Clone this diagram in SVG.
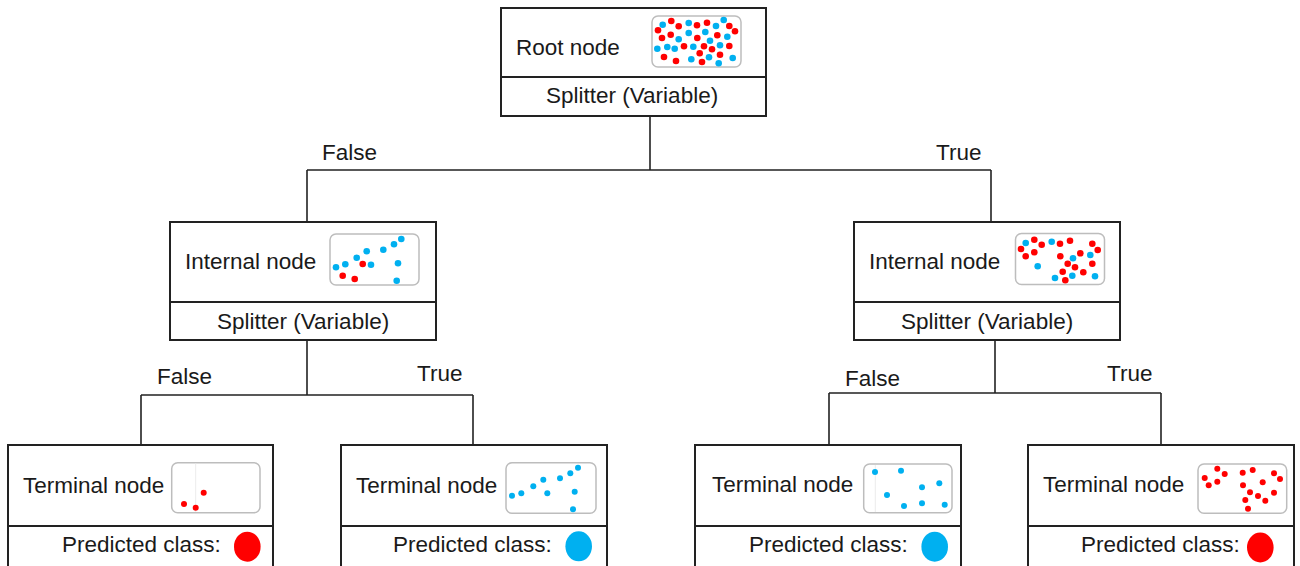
<svg xmlns="http://www.w3.org/2000/svg" width="1300" height="566" viewBox="0 0 1300 566">
  <defs>
    <style>
      .box { fill: #ffffff; stroke: #222222; stroke-width: 2; }
      .div { stroke: #222222; stroke-width: 2; }
      .plot { fill: #ffffff; stroke: #bdbdbd; stroke-width: 1.5; }
      .guide { stroke: #ececec; stroke-width: 1; }
      .wire { fill: none; stroke: #222222; stroke-width: 1.6; }
      text { font-family: "Liberation Sans", Arial, sans-serif; font-size: 22.5px; fill: #1a1a1a; }
      .r { fill: #ff0000; }
      .b { fill: #00b0f0; }
      .big circle { r: 3.3px; }
    </style>
  </defs>
  <rect width="1300" height="566" fill="#ffffff"/>

  <!-- tree branches -->
  <g id="connectors">
    <path class="wire" d="M650,116 V170 M307,170 H991 M307,170 V222 M991,170 V222"/>
    <path class="wire" d="M307,340 V395 M141,395 H473 M141,395 V445 M473,395 V445"/>
    <path class="wire" d="M995,340 V393 M829,393 H1161 M829,393 V445 M1161,393 V445"/>
    <text x="322" y="160">False</text>
    <text x="936" y="160">True</text>
    <text x="157" y="384">False</text>
    <text x="417" y="381">True</text>
    <text x="845" y="386">False</text>
    <text x="1107" y="381">True</text>
  </g>

  <!-- root -->
  <g id="root">
    <rect class="box" x="501" y="8" width="265" height="108"/>
    <line class="div" x1="501" y1="77" x2="766" y2="77"/>
    <text x="516" y="55">Root node</text>
    <text x="546" y="103">Splitter (Variable)</text>
    <rect class="plot" x="652" y="16" width="89" height="51" rx="6"/>
    <g class="big">
      <circle class="b" cx="662.7" cy="24.7" r="3"/><circle class="r" cx="671.3" cy="21" r="3"/>
      <circle class="r" cx="678.7" cy="26.3" r="3"/><circle class="b" cx="688.7" cy="23" r="3"/>
      <circle class="r" cx="697" cy="25.3" r="3"/><circle class="r" cx="707" cy="22.7" r="3"/>
      <circle class="b" cx="716" cy="26" r="3"/><circle class="b" cx="723.7" cy="20" r="3"/>
      <circle class="r" cx="729.3" cy="26" r="3"/><circle class="r" cx="735" cy="31.3" r="3"/>
      <circle class="r" cx="658" cy="30.3" r="3"/><circle class="r" cx="662" cy="38" r="3"/>
      <circle class="r" cx="670.7" cy="34.7" r="3"/><circle class="b" cx="678.7" cy="39.3" r="3"/>
      <circle class="b" cx="688.7" cy="33" r="3"/><circle class="r" cx="697.3" cy="38" r="3"/>
      <circle class="b" cx="705.3" cy="32" r="3"/><circle class="r" cx="717.3" cy="35.3" r="3"/>
      <circle class="b" cx="727.3" cy="36.7" r="3"/><circle class="b" cx="710" cy="40.7" r="3"/>
      <circle class="r" cx="704" cy="46.3" r="3"/><circle class="b" cx="720" cy="45.3" r="3"/>
      <circle class="r" cx="729.3" cy="46" r="3"/><circle class="b" cx="657.3" cy="48.7" r="3"/>
      <circle class="b" cx="667.3" cy="47" r="3"/><circle class="b" cx="674.7" cy="48.7" r="3"/>
      <circle class="r" cx="684" cy="46.3" r="3"/><circle class="b" cx="693.3" cy="46.7" r="3"/>
      <circle class="r" cx="712" cy="49.3" r="3"/><circle class="r" cx="699.7" cy="53.3" r="3"/>
      <circle class="r" cx="720" cy="54.7" r="3"/><circle class="b" cx="709" cy="57.3" r="3"/>
      <circle class="r" cx="664" cy="57" r="3"/><circle class="r" cx="676" cy="61" r="3"/>
      <circle class="b" cx="691.3" cy="59.3" r="3"/><circle class="r" cx="702" cy="62" r="3"/>
      <circle class="b" cx="718.7" cy="63.3" r="3"/><circle class="b" cx="732.7" cy="58" r="3"/>
    </g>
  </g>

  <!-- internal node, false branch -->
  <g id="internal-left">
    <rect class="box" x="170" y="222" width="266" height="118"/>
    <line class="div" x1="170" y1="302" x2="436" y2="302"/>
    <text x="185" y="269">Internal node</text>
    <text x="217" y="329">Splitter (Variable)</text>
    <rect class="plot" x="330" y="234" width="89" height="51" rx="6"/>
    <g class="big">
      <circle class="b" cx="336" cy="267.3" r="3"/><circle class="b" cx="345.3" cy="264.3" r="3"/>
      <circle class="b" cx="356.7" cy="257.7" r="3"/><circle class="b" cx="366.7" cy="251.3" r="3"/>
      <circle class="r" cx="362.7" cy="264" r="3"/><circle class="b" cx="371" cy="264.7" r="3"/>
      <circle class="b" cx="383.3" cy="249.7" r="3"/><circle class="b" cx="394" cy="244.3" r="3"/>
      <circle class="b" cx="401.3" cy="239" r="3"/><circle class="b" cx="398" cy="263.3" r="3"/>
      <circle class="r" cx="342.7" cy="275.7" r="3"/><circle class="r" cx="354.7" cy="279" r="3"/>
      <circle class="b" cx="396.7" cy="280.7" r="3"/>
    </g>
  </g>

  <!-- internal node, true branch -->
  <g id="internal-right">
    <rect class="box" x="854" y="222" width="266" height="118"/>
    <line class="div" x1="854" y1="302" x2="1120" y2="302"/>
    <text x="869" y="269">Internal node</text>
    <text x="901" y="329">Splitter (Variable)</text>
    <rect class="plot" x="1015.5" y="233.5" width="89" height="51" rx="6"/>
    <g class="big">
      <circle class="b" cx="1025.7" cy="243" r="3"/><circle class="r" cx="1034.3" cy="239.7" r="3"/>
      <circle class="r" cx="1041.7" cy="244.7" r="3"/><circle class="r" cx="1021" cy="249" r="3"/>
      <circle class="r" cx="1025.7" cy="256.3" r="3"/><circle class="r" cx="1034.3" cy="252.3" r="3"/>
      <circle class="b" cx="1051.7" cy="241.7" r="3"/><circle class="r" cx="1060" cy="243.7" r="3"/>
      <circle class="r" cx="1070" cy="240.7" r="3"/><circle class="r" cx="1092.3" cy="243.7" r="3"/>
      <circle class="r" cx="1097.7" cy="250" r="3"/><circle class="r" cx="1080.3" cy="253.3" r="3"/>
      <circle class="b" cx="1090.3" cy="255" r="3"/><circle class="r" cx="1060.3" cy="256.3" r="3"/>
      <circle class="b" cx="1073" cy="258.3" r="3"/><circle class="r" cx="1067.7" cy="263.7" r="3"/>
      <circle class="r" cx="1092.3" cy="263.7" r="3"/><circle class="b" cx="1037.7" cy="266.3" r="3"/>
      <circle class="r" cx="1075" cy="267.3" r="3"/><circle class="r" cx="1062.7" cy="271.7" r="3"/>
      <circle class="r" cx="1083.3" cy="272.3" r="3"/><circle class="b" cx="1072.3" cy="275.7" r="3"/>
      <circle class="b" cx="1055" cy="278" r="3"/><circle class="r" cx="1065.3" cy="280.3" r="3"/>
      <circle class="b" cx="1095" cy="276.3" r="3"/>
    </g>
  </g>

  <!-- terminal nodes -->
  <g id="terminal-1">
    <rect class="box" x="8" y="445" width="265" height="130"/>
    <line class="div" x1="8" y1="526" x2="273" y2="526"/>
    <text x="23" y="493">Terminal node</text>
    <text x="62" y="552">Predicted class:</text>
    <ellipse class="r" cx="247.3" cy="546.7" rx="13.3" ry="15"/>
    <rect class="plot" x="171.7" y="462.7" width="88.3" height="50" rx="6"/>
    <line class="guide" x1="195.7" y1="463.5" x2="195.7" y2="512"/>
    <circle class="r" cx="203.7" cy="492.7" r="3"/><circle class="r" cx="184" cy="504" r="3"/>
    <circle class="r" cx="195.7" cy="507.7" r="3"/>
  </g>

  <g id="terminal-2">
    <rect class="box" x="341" y="445" width="266" height="130"/>
    <line class="div" x1="341" y1="526" x2="607" y2="526"/>
    <text x="356" y="493">Terminal node</text>
    <text x="393" y="552">Predicted class:</text>
    <ellipse class="b" cx="578.7" cy="546.3" rx="13.3" ry="15"/>
    <rect class="plot" x="506" y="462.7" width="90" height="50.6" rx="6"/>
    <circle class="b" cx="512" cy="495.7" r="3"/><circle class="b" cx="521.3" cy="493.3" r="3"/>
    <circle class="b" cx="533.3" cy="486.3" r="3"/><circle class="b" cx="543.3" cy="479.7" r="3"/>
    <circle class="b" cx="547.3" cy="493.3" r="3"/><circle class="b" cx="560" cy="478.3" r="3"/>
    <circle class="b" cx="570.3" cy="473.3" r="3"/><circle class="b" cx="578" cy="467.7" r="3"/>
    <circle class="b" cx="574.7" cy="491.7" r="3"/><circle class="b" cx="573" cy="509.3" r="3"/>
  </g>

  <g id="terminal-3">
    <rect class="box" x="695" y="445" width="266" height="130"/>
    <line class="div" x1="695" y1="526" x2="961" y2="526"/>
    <text x="712" y="492">Terminal node</text>
    <text x="749" y="552">Predicted class:</text>
    <ellipse class="b" cx="934.7" cy="546.7" rx="13.3" ry="15"/>
    <rect class="plot" x="863.7" y="464" width="88.3" height="48.7" rx="6"/>
    <line class="guide" x1="875.3" y1="465" x2="875.3" y2="512"/>
    <circle class="b" cx="875" cy="472" r="3"/><circle class="b" cx="901" cy="470.7" r="3"/>
    <circle class="b" cx="922" cy="487.3" r="3"/><circle class="b" cx="939.3" cy="483.3" r="3"/>
    <circle class="b" cx="887" cy="495" r="3"/><circle class="b" cx="904" cy="506" r="3"/>
    <circle class="b" cx="922" cy="503.3" r="3"/><circle class="b" cx="944.7" cy="504.7" r="3"/>
  </g>

  <g id="terminal-4">
    <rect class="box" x="1028" y="445" width="266" height="130"/>
    <line class="div" x1="1028" y1="526" x2="1294" y2="526"/>
    <text x="1043" y="492">Terminal node</text>
    <text x="1081" y="552">Predicted class:</text>
    <ellipse class="r" cx="1260.3" cy="547.5" rx="13.3" ry="15"/>
    <rect class="plot" x="1198" y="464" width="88.7" height="49.3" rx="6"/>
    <circle class="r" cx="1217.3" cy="468.7" r="3"/><circle class="r" cx="1224.7" cy="474" r="3"/>
    <circle class="r" cx="1204.7" cy="478" r="3"/><circle class="r" cx="1208.7" cy="485.3" r="3"/>
    <circle class="r" cx="1217.3" cy="481.7" r="3"/><circle class="r" cx="1242.7" cy="472.7" r="3"/>
    <circle class="r" cx="1252.7" cy="470" r="3"/><circle class="r" cx="1274" cy="473.3" r="3"/>
    <circle class="r" cx="1280" cy="479" r="3"/><circle class="r" cx="1262.7" cy="482.3" r="3"/>
    <circle class="r" cx="1243" cy="485.3" r="3"/><circle class="r" cx="1250" cy="492.3" r="3"/>
    <circle class="r" cx="1274" cy="492.7" r="3"/><circle class="r" cx="1258" cy="496" r="3"/>
    <circle class="r" cx="1245.3" cy="500" r="3"/><circle class="r" cx="1265.3" cy="500.7" r="3"/>
    <circle class="r" cx="1248" cy="508.7" r="3"/>
  </g>
</svg>
